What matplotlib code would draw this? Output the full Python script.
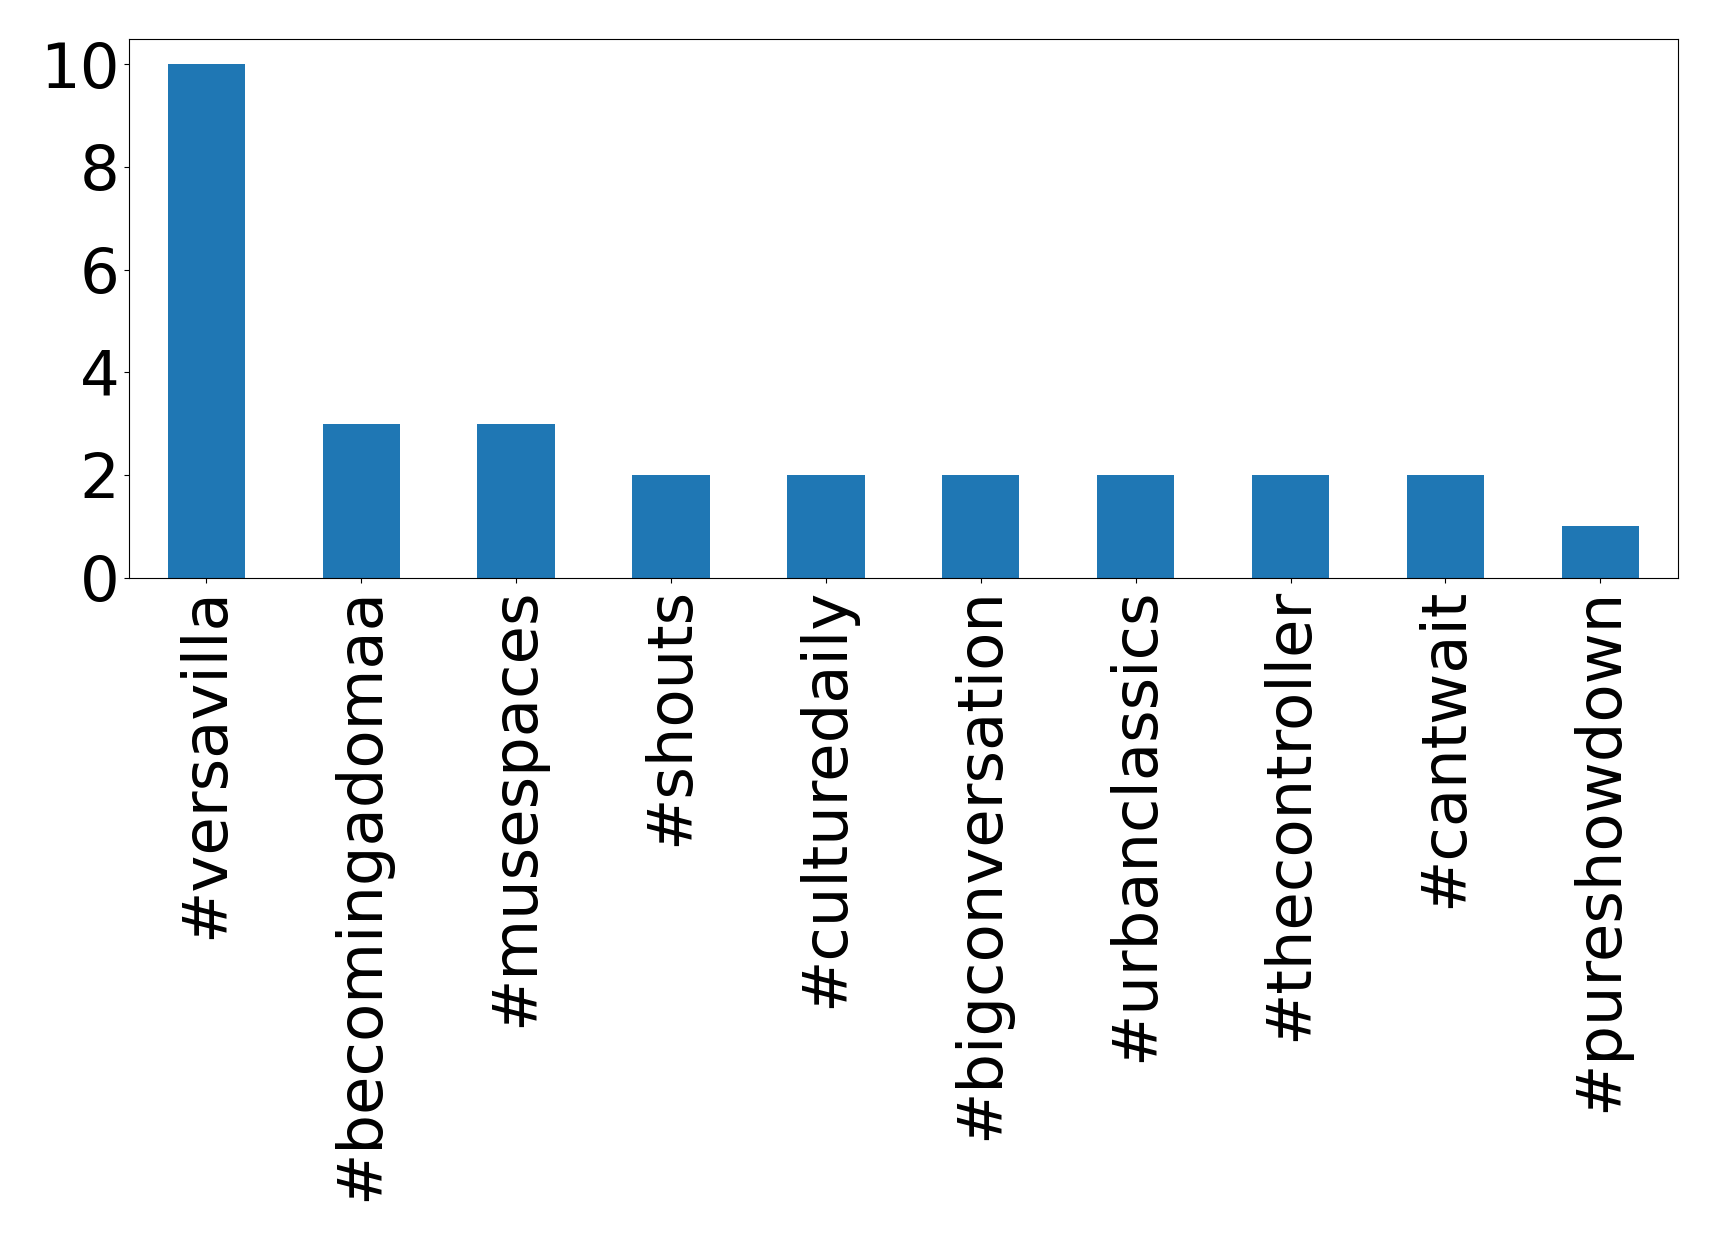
import matplotlib
matplotlib.use("Agg")
import matplotlib.pyplot as plt

hashtags = ["#versavilla", "#becomingadomaa", "#musespaces", "#shouts",
            "#culturedaily", "#bigconversation", "#urbanclassics",
            "#thecontroller", "#cantwait", "#pureshowdown"]
counts = [10, 3, 3, 2, 2, 2, 2, 2, 2, 1]
yticks = [0, 2, 4, 6, 8, 10]

fig, ax = plt.subplots(figsize=(17.19, 12.42), dpi=100)
fig.subplots_adjust(left=0.075, right=0.976, top=0.969, bottom=0.535)

x = range(len(hashtags))
ax.bar(x, counts, width=0.5, color="#1f77b4")
ax.set_xlim(-0.5, len(hashtags) - 0.5)
ax.set_xticks(list(x))
ax.set_xticklabels(hashtags, rotation=90, fontsize=45)
ax.set_yticks(yticks)
ax.tick_params(axis="y", labelsize=45)

fig.savefig("out.png", dpi=100)
